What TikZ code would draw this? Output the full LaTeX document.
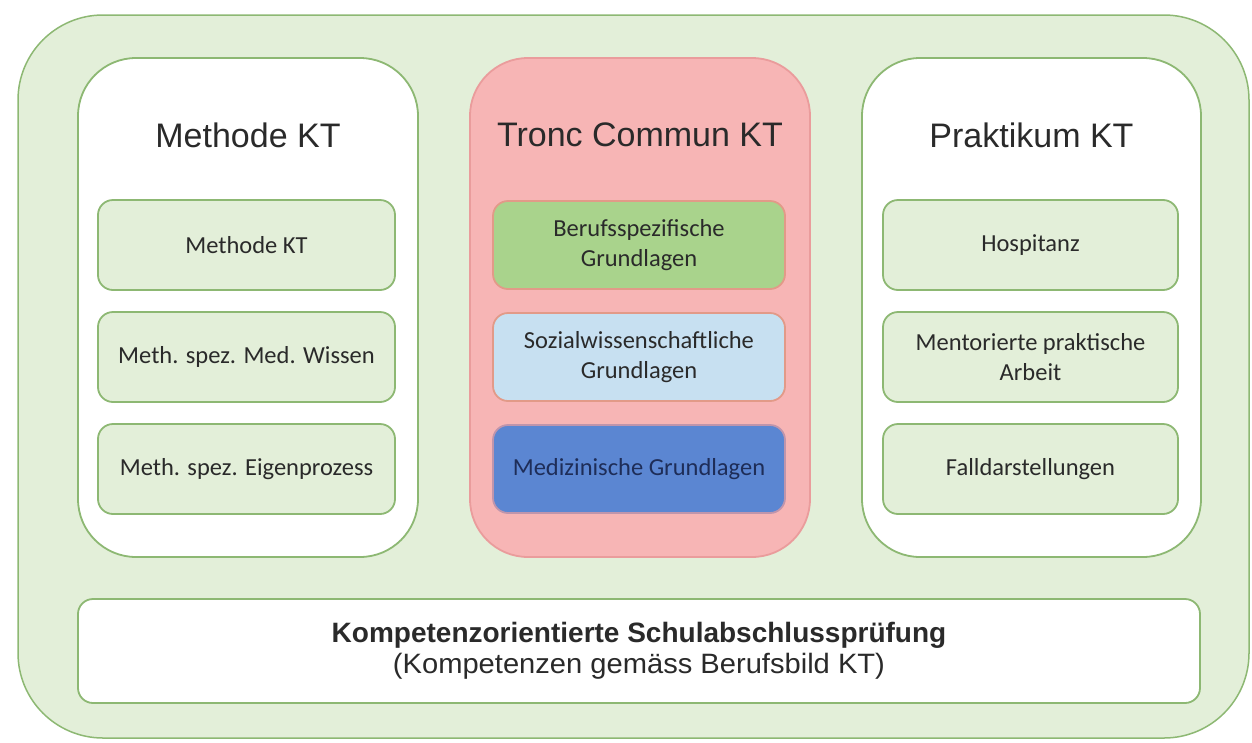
\documentclass[tikz,border=0pt]{standalone}
\usepackage{fontspec}
\setmainfont{Liberation Sans}
\newfontfamily\calfont{Carlito}
\newfontfamily\widefont[FakeStretch=1.04]{Liberation Sans}
\definecolor{bggreen}{HTML}{E3EFD9}
\definecolor{edgegreen}{HTML}{8DB873}
\definecolor{redfill}{HTML}{F7B5B5}
\definecolor{rededge}{HTML}{EA9C9C}
\definecolor{grfill}{HTML}{A9D38C}
\definecolor{grpedge}{HTML}{E29A88}
\definecolor{ltblue}{HTML}{C7E0F1}
\definecolor{dkblue}{HTML}{5B86D2}
\definecolor{txt}{HTML}{2A2A2A}
\definecolor{navytxt}{HTML}{1E2D58}
\tikzset{
  outerbox/.style={draw=edgegreen, line width=1.5pt, fill=bggreen, rounded corners=85pt, rectangle, inner sep=0pt},
  colbox/.style={draw=edgegreen, line width=1.8pt, fill=white, rounded corners=58pt, rectangle, minimum width=340pt, minimum height=499pt, inner sep=0pt},
  redbox/.style={colbox, draw=rededge, fill=redfill},
  itembox/.style={draw=edgegreen, line width=1.8pt, fill=bggreen, rounded corners=15pt, rectangle, minimum width=297pt, minimum height=90pt, inner sep=0pt, align=center, text=txt, font=\calfont\fontsize{24.5}{30}\selectfont},
  centerbox/.style={itembox, minimum width=292pt, minimum height=88pt, draw=grpedge},
  titletext/.style={text=txt, font=\fontsize{34}{40}\selectfont, inner sep=0pt},
}
\begin{document}
\begin{tikzpicture}[x=1pt,y=-1pt]
\useasboundingbox (0,0) rectangle (1252,742);
\node[outerbox, minimum width=1231pt, minimum height=723pt] (outer) at (633.5,376.5) {};
% columns
\node[colbox] (left) at (248,307.5) {};
\node[redbox] (center) at (640,307.5) {};
\node[colbox, minimum width=339pt] (right) at (1031.5,307.5) {};
% titles
\node[titletext] (lt) at (248,135) {Methode KT};
\node[titletext] (ct) at (640,135) {Tronc Commun KT};
\node[titletext] (rt) at (1031.5,135) {Praktikum KT};
% left items
\node[itembox] (l1) at (246.5,245) {Methode KT};
\node[itembox] (l2) at (246.5,357) {Meth. spez. Med. Wissen};
\node[itembox] (l3) at (246.5,469) {Meth. spez. Eigenprozess};
% center items
\node[centerbox, fill=grfill] (c1) at (639,245) {Berufsspezifische\\Grundlagen};
\node[centerbox, fill=ltblue] (c2) at (639,357) {Sozialwissenschaftliche\\Grundlagen};
\node[centerbox, fill=dkblue, draw=rededge!70!dkblue, text=navytxt] (c3) at (639,469) {Medizinische Grundlagen};
% right items
\node[itembox, minimum width=295pt] (r1) at (1030.5,245) {Hospitanz};
\node[itembox, minimum width=295pt] (r2) at (1030.5,357) {Mentorierte praktische\\Arbeit};
\node[itembox, minimum width=295pt] (r3) at (1030.5,469) {Falldarstellungen};
% bottom
\node[draw=edgegreen, line width=1.8pt, fill=white, rounded corners=15pt, rectangle, minimum width=1122pt, minimum height=104pt, inner sep=0pt, align=center, text=txt, font=\fontsize{28}{31}\selectfont] (bottom) at (639,651) {\textbf{Kompetenzorientierte Schulabschlussprüfung}\\{\widefont (Kompetenzen gemäss Berufsbild KT)}};
\end{tikzpicture}
\end{document}
